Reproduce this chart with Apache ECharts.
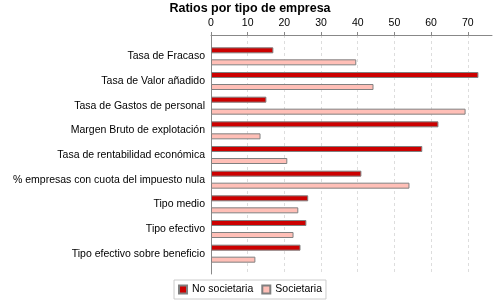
<!DOCTYPE html>
<html>
<head>
<meta charset="utf-8">
<script src="https://cdn.jsdelivr.net/npm/echarts@6/dist/echarts.min.js"></script>
<style>
    html, body { margin: 0; padding: 0; background: #fff; }
    #chart { width: 500px; height: 300px; }
</style>
</head>
<body>
<div id="chart"></div>
<script>
// categorias (de arriba a abajo)
var categorias = [
    'Tasa de Fracaso',
    'Tasa de Valor añadido',
    'Tasa de Gastos de personal',
    'Margen Bruto de explotación',
    'Tasa de rentabilidad económica',
    '% empresas con cuota del impuesto nula',
    'Tipo medio',
    'Tipo efectivo',
    'Tipo efectivo sobre beneficio'
];
var noSocietaria = [17.0, 72.9, 15.1, 62.0, 57.6, 41.0, 26.5, 26.0, 24.4];
var societaria = [39.6, 44.3, 69.4, 13.5, 20.8, 54.1, 23.8, 22.5, 12.1];
var ejeMax = 76.6;
var ejeIntervalo = 10;

var fuente = '"Liberation Sans", Arial, sans-serif';
var chart = echarts.init(document.getElementById('chart'));

var option = {
    animation: false,
    title: {
        text: 'Ratios por tipo de empresa',
        left: 'center',
        top: 2,
        padding: 0,
        textStyle: { fontFamily: fuente, fontSize: 12.5, fontWeight: 'bold', color: '#000' }
    },
    legend: {
        bottom: 1,
        left: 'center',
        data: ['No societaria', 'Societaria'],
        itemWidth: 8,
        itemHeight: 8,
        itemGap: 8,
        padding: [4, 4, 4, 4],
        borderColor: '#ccc',
        borderWidth: 1,
        textStyle: { fontFamily: fuente, fontSize: 10.5, color: '#000' },
        icon: 'rect'
    },
    grid: [
        // marco de ejes
        { left: 211, right: 8, top: 35, height: 239 },
        // barras
        { left: 211, right: 8, top: 44, height: 222 }
    ],
    xAxis: [
        {
            gridIndex: 0,
            type: 'value',
            position: 'top',
            min: 0,
            max: ejeMax,
            interval: ejeIntervalo,
            axisLine: { show: true, onZero: false, lineStyle: { color: '#888' } },
            axisTick: { show: true, length: 3, lineStyle: { color: '#888' } },
            axisLabel: { fontFamily: fuente, fontSize: 10.5, color: '#000', margin: 6, showMaxLabel: false },
            splitLine: { show: true, showMaxLine: false, showMinLine: false, lineStyle: { color: '#ddd', type: [3, 3] } }
        },
        {
            gridIndex: 1,
            type: 'value',
            min: 0,
            max: ejeMax,
            show: false
        }
    ],
    yAxis: [
        {
            gridIndex: 0,
            type: 'category',
            data: categorias,
            axisLine: { show: true, onZero: false, lineStyle: { color: '#888' } },
            axisTick: { show: false },
            axisLabel: { show: false },
            splitLine: { show: false }
        },
        {
            gridIndex: 1,
            type: 'category',
            inverse: true,
            data: categorias,
            axisLine: { show: false },
            axisTick: { show: false },
            axisLabel: { fontFamily: fuente, fontSize: 10.5, color: '#000', margin: 6 }
        }
    ],
    series: [
        {
            name: 'No societaria',
            type: 'bar',
            xAxisIndex: 1,
            yAxisIndex: 1,
            data: noSocietaria,
            barWidth: 6,
            barGap: '100%',
            itemStyle: { color: '#cc0000', borderColor: '#808080', borderWidth: 1 }
        },
        {
            name: 'Societaria',
            type: 'bar',
            xAxisIndex: 1,
            yAxisIndex: 1,
            data: societaria,
            barWidth: 6,
            barGap: '100%',
            itemStyle: { color: '#ffbfb7', borderColor: '#808080', borderWidth: 1 }
        }
    ]
};
chart.setOption(option);
</script>
</body>
</html>
